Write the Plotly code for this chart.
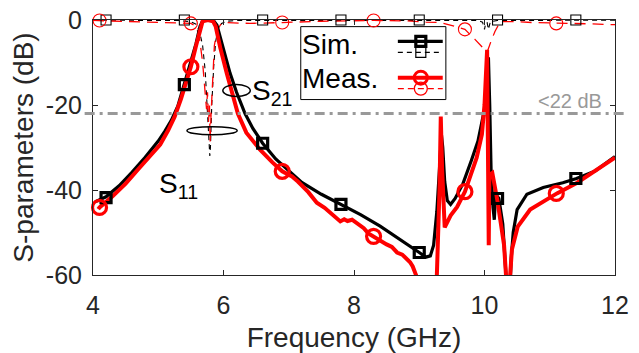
import plotly.graph_objects as go

# ---------------- data ----------------
freq_s11_sim = [4.03, 4.2, 4.4, 4.6, 4.8, 5.0, 5.1, 5.2, 5.3, 5.4, 5.5, 5.58, 5.64, 5.68, 5.75,
                5.85, 5.9, 5.98, 6.1, 6.2, 6.33, 6.45, 6.6, 6.8, 7.0, 7.2, 7.5, 7.8, 8.1, 8.4,
                8.7, 9.0, 9.1, 9.17, 9.22, 9.27, 9.31, 9.34, 9.36, 9.39, 9.43, 9.48, 9.55, 9.67,
                9.8, 9.9, 10.0, 10.04, 10.06, 10.08, 10.1, 10.13, 10.15, 10.17, 10.22, 10.28,
                10.33, 10.37, 10.41, 10.44, 10.5, 10.65, 10.9, 11.2, 11.41, 11.7, 12.0]
s11_sim = [-42.8, -41.6, -39.0, -35.8, -32.3, -28.5, -26.2, -23.6, -20.3, -15.2, -10.0, -5.5, -1.5, -0.2, 0.0,
           -0.2, -1.2, -6.0, -12.5, -17.0, -22.0, -25.5, -29.0, -32.7, -35.5, -38.2, -41.0, -43.4, -45.8, -48.5,
           -51.5, -54.7, -55.8, -55.5, -53.0, -45.0, -35.0, -27.0, -30.0, -38.0, -42.5, -43.4, -42.0, -38.5,
           -33.0, -28.5, -21.0, -13.0, -8.8, -20.0, -35.0, -44.0, -47.0, -41.0, -42.0, -48.0,
           -62.0, -70.0, -56.0, -50.0, -44.6, -41.0, -39.4, -38.3, -37.3, -35.5, -32.1]

freq_s11_meas = [4.08, 4.1, 4.3, 4.5, 4.7, 4.9, 5.03, 5.15, 5.25, 5.35, 5.45, 5.5, 5.58, 5.64, 5.68,
                 5.76, 5.84, 5.88, 5.95, 6.05, 6.15, 6.22, 6.35, 6.56, 6.75, 6.9, 7.05, 7.14, 7.3,
                 7.43, 7.55, 7.65, 7.72, 7.79, 7.85, 7.9, 7.97, 8.04, 8.1, 8.15, 8.22, 8.29, 8.4,
                 8.5, 8.58, 8.66, 8.74, 8.8, 8.86, 8.9, 8.98, 9.05, 9.2, 9.27, 9.31, 9.33, 9.35,
                 9.39, 9.48, 9.58, 9.7, 9.8, 9.88, 9.96, 10.0, 10.04, 10.055, 10.065, 10.075,
                 10.12, 10.2, 10.3, 10.35, 10.38, 10.42, 10.51, 10.7, 10.9, 11.11, 11.42, 11.7, 12.0]
s11_meas = [-44.5, -44.1, -41.5, -38.5, -35.0, -31.5, -29.3, -26.0, -22.8, -18.5, -13.5, -11.0, -6.0, -2.0, -0.3,
            0.0, -0.3, -1.5, -6.5, -12.5, -18.5, -22.0, -26.5, -30.5, -33.5, -35.6, -36.8, -38.0, -40.5,
            -43.0, -44.2, -45.5, -46.6, -47.4, -46.9, -47.3, -47.0, -47.7, -48.4, -49.0, -50.2, -50.9, -51.8,
            -52.8, -53.4, -54.7, -55.2, -56.0, -57.0, -58.0, -61.0, -64.0, -66.0, -60.0, -40.0, -22.7, -35.0,
            -48.8, -46.0, -44.0, -40.4, -36.0, -32.4, -26.9, -20.0, -7.0, -25.0, -53.0, -36.5,
            -36.0, -42.7, -53.0, -65.0, -63.0, -54.0, -48.6, -44.6, -42.7, -40.8, -38.3, -35.5, -32.4]

freq_s21_sim = [4.0, 5.3, 5.5, 5.58, 5.63, 5.68, 5.72, 5.75, 5.78, 5.79, 5.8, 5.82, 5.85, 5.88,
                5.92, 5.97, 6.05, 6.2, 9.9, 9.97, 10.0, 10.02, 10.04, 10.06, 10.09, 10.2, 12.0]
s21_sim = [-0.05, -0.1, -0.4, -1.0, -2.5, -6.0, -12.0, -20.0, -28.0, -32.0, -30.0, -20.0, -11.0, -5.0,
           -2.0, -0.8, -0.3, -0.1, -0.1, -0.5, -2.2, -0.6, -0.6, -2.2, -0.4, -0.1, -0.05]

freq_s21_meas = [4.0, 4.5, 5.0, 5.3, 5.5, 5.58, 5.63, 5.68, 5.72, 5.74, 5.755, 5.77, 5.785, 5.795,
                 5.81, 5.83, 5.86, 5.9, 5.95, 6.0, 6.4, 6.9, 7.5, 8.3, 8.8, 9.1, 9.32, 9.55, 9.7,
                 9.85, 9.96, 10.04, 10.1, 10.16, 10.24, 10.5, 10.74, 11.1, 11.6, 12.0]
s21_meas = [-0.1, -0.3, -0.5, -0.6, -0.8, -1.5, -4.0, -10.0, -17.5, -21.0, -17.0, -24.0, -20.0, -28.6,
            -22.0, -14.0, -6.0, -2.5, -1.2, -0.6, -0.8, -0.6, -0.3, -0.1, -0.2, -0.5, -0.6, -1.5, -2.2,
            -4.5, -6.2, -7.6, -5.0, -2.7, -0.4, -0.4, -0.6, -0.8, -0.9, -1.1]

sim_marker_freq = [4.2, 5.4, 6.6, 7.8, 9.0, 10.2, 11.4]
s11_sim_marker = [-41.8, -15.2, -29.0, -43.4, -54.7, -42.0, -37.3]
s21_sim_marker = [0.0, 0.0, 0.0, 0.0, 0.0, 0.0, 0.0]

meas_marker_freq = [4.1, 5.5, 6.9, 8.3, 9.7, 11.1]
s11_meas_marker = [-44.1, -11.0, -35.6, -50.9, -40.4, -40.8]
s21_meas_marker = [-0.1, -0.8, -0.6, -0.1, -2.2, -0.8]

limit_db = -22
limit_label = "<22 dB"
x_ticks = [4, 6, 8, 10, 12]
y_ticks = [0, -20, -40, -60]

# ---------------- styling ----------------
FONT = "Liberation Sans, Arial, Helvetica, sans-serif"
AX = "#262626"
RED = "#ff0000"
BLK = "#000000"

fig = go.Figure()

# curves
fig.add_trace(go.Scatter(x=freq_s21_sim, y=s21_sim, mode="lines",
                         line=dict(color=BLK, width=1.1, dash="5px,4px")))
fig.add_trace(go.Scatter(x=freq_s21_meas, y=s21_meas, mode="lines",
                         line=dict(color=RED, width=1.3, dash="11px,7px")))
fig.add_trace(go.Scatter(x=freq_s11_sim, y=s11_sim, mode="lines",
                         line=dict(color=BLK, width=3.2)))
fig.add_trace(go.Scatter(x=freq_s11_meas, y=s11_meas, mode="lines",
                         line=dict(color=RED, width=4)))

# markers
fig.add_trace(go.Scatter(x=sim_marker_freq, y=s21_sim_marker, mode="markers", cliponaxis=False,
                         marker=dict(symbol="square-open", size=10, color=BLK, line=dict(width=1.1, color=BLK))))
fig.add_trace(go.Scatter(x=meas_marker_freq, y=s21_meas_marker, mode="markers", cliponaxis=False,
                         marker=dict(symbol="circle-open", size=13, color=RED, line=dict(width=1.1, color=RED))))
fig.add_trace(go.Scatter(x=sim_marker_freq, y=s11_sim_marker, mode="markers", cliponaxis=False,
                         marker=dict(symbol="square-open", size=10, color=BLK, line=dict(width=3.2, color=BLK))))
fig.add_trace(go.Scatter(x=meas_marker_freq, y=s11_meas_marker, mode="markers", cliponaxis=False,
                         marker=dict(symbol="circle-open", size=14, color=RED, line=dict(width=3.2, color=RED))))

# legend samples drawn on an overlay axis in [0,1] plot-fraction units
lx = [0.584, 0.670]
lmx = [0.628]
leg_rows = [
    (0.916, BLK, 3.2, "solid", "square-open", 10, 3.2),
    (0.873, BLK, 1.1, "5px,4px", "square-open", 10, 1.2),
    (0.774, RED, 4, "solid", "circle-open", 13, 3.0),
    (0.731, RED, 1.3, "6px,4px", "circle-open", 13, 1.3),
]
for yy, col, w, dsh, sym, sz, mw in leg_rows:
    fig.add_trace(go.Scatter(x=lx, y=[yy, yy], mode="lines", xaxis="x2", yaxis="y2",
                             line=dict(color=col, width=w, dash=dsh), cliponaxis=False))
    fig.add_trace(go.Scatter(x=lmx, y=[yy], mode="markers", xaxis="x2", yaxis="y2", cliponaxis=False,
                             marker=dict(symbol=sym, size=sz, color=col, line=dict(width=mw, color=col))))

shapes = [
    # legend box
    dict(type="rect", xref="paper", yref="paper", x0=0.398, x1=0.676, y0=0.688, y1=0.974,
         line=dict(color=BLK, width=1), fillcolor="white", layer="below"),
    # limit line (-22 dB), extends slightly beyond the axes
    dict(type="line", xref="paper", yref="paper", x0=-0.016, x1=1.02,
         y0=1 - limit_db / -60.0, y1=1 - limit_db / -60.0,
         line=dict(color="#999999", width=3, dash="10px,5px,3px,5px"), layer="above"),
    # ellipses marking curves
    dict(type="circle", xref="x", yref="y", x0=5.99, x1=6.41, y0=-18.0, y1=-15.2,
         line=dict(color=BLK, width=1.5), layer="above"),
    dict(type="circle", xref="x", yref="y", x0=5.44, x1=6.21, y0=-27.0, y1=-25.1,
         line=dict(color=BLK, width=1.5), layer="above"),
]

annotations = [
    dict(text="Sim.", xref="paper", yref="paper", x=0.397, y=0.904, xanchor="left", yanchor="middle",
         showarrow=False, font=dict(family=FONT, size=28, color=BLK)),
    dict(text="Meas.", xref="paper", yref="paper", x=0.397, y=0.770, xanchor="left", yanchor="middle",
         showarrow=False, font=dict(family=FONT, size=28, color=BLK)),
    dict(text="S<sub>21</sub>", xref="x", yref="y", x=6.40, y=-17.0, xanchor="left", yanchor="middle",
         showarrow=False, font=dict(family=FONT, size=28, color=BLK)),
    dict(text="S<sub>11</sub>", xref="x", yref="y", x=4.98, y=-39.0, xanchor="left", yanchor="middle",
         showarrow=False, font=dict(family=FONT, size=28, color=BLK)),
    dict(text=limit_label, xref="paper", yref="paper", x=0.978, y=0.682, xanchor="right", yanchor="middle",
         showarrow=False, font=dict(family=FONT, size=20, color="#999999")),
]

fig.update_layout(
    width=639, height=353,
    margin=dict(l=93, r=24, t=20, b=78, pad=0),
    paper_bgcolor="white", plot_bgcolor="white",
    showlegend=False,
    font=dict(family=FONT, color=AX),
    shapes=shapes, annotations=annotations,
    xaxis=dict(range=[4, 12], tickvals=x_ticks, ticktext=[str(v) for v in x_ticks], automargin=False,
               ticks="inside", ticklen=5, tickcolor=AX, showline=True, linecolor=AX, linewidth=1,
               mirror="ticks", showgrid=False, zeroline=False,
               tickfont=dict(family=FONT, size=25, color=AX), ticklabelstandoff=8,
               title=dict(text="Frequency (GHz)", font=dict(family=FONT, size=28, color=AX), standoff=16)),
    yaxis=dict(range=[-60, 0], tickvals=y_ticks, ticktext=[str(v) for v in y_ticks], automargin=False,
               ticks="inside", ticklen=5, tickcolor=AX, showline=True, linecolor=AX, linewidth=1,
               mirror="ticks", showgrid=False, zeroline=False,
               tickfont=dict(family=FONT, size=25, color=AX), ticklabelstandoff=5,
               title=dict(text="S-parameters (dB)", font=dict(family=FONT, size=28, color=AX), standoff=4)),
    xaxis2=dict(overlaying="x", anchor="y2", range=[0, 1], visible=False, fixedrange=True),
    yaxis2=dict(overlaying="y", anchor="x2", range=[0, 1], visible=False, fixedrange=True),
)

fig.write_html("out.html", config={"displayModeBar": False},
               post_script="document.body.style.margin='0';document.body.style.overflow='hidden';")
